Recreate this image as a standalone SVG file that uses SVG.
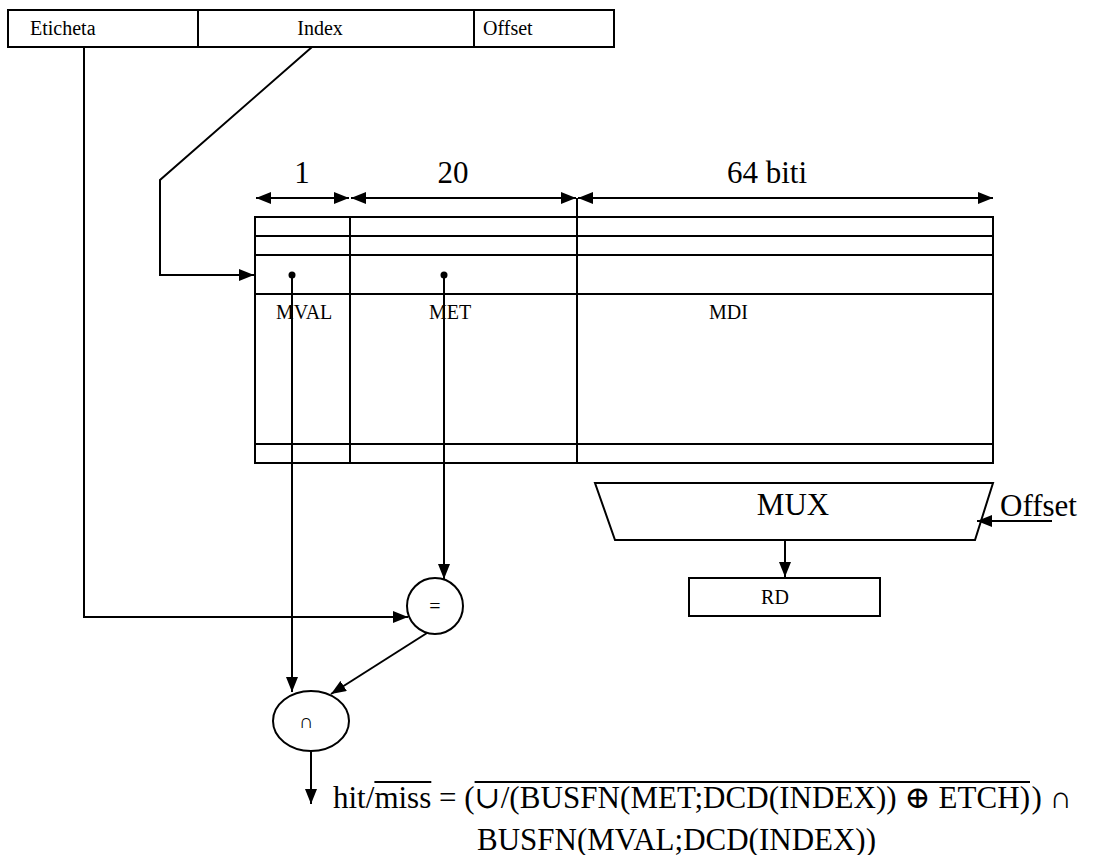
<svg xmlns="http://www.w3.org/2000/svg" width="1094" height="855" viewBox="0 0 1094 855">
<style>
.ln{fill:none;stroke:#000;stroke-width:2}
.bx{fill:#fff;stroke:#000;stroke-width:2}
.t{font-family:"Liberation Serif","Times New Roman",serif;fill:#000}
.s{font-size:20px}
.b{font-size:31px}
.m{font-family:"DejaVu Sans ExtraLight","DejaVu Serif","Liberation Serif",serif}
</style>
<defs>
<marker id="arr" viewBox="0 0 15 12" refX="15" refY="6" markerWidth="15" markerHeight="12" markerUnits="userSpaceOnUse" orient="auto-start-reverse">
<path d="M0,0 L15,6 L0,12 z" fill="#000"/>
</marker>
</defs>
<rect width="1094" height="855" fill="#fff"/>
<g id="address">
<rect class="bx" x="8" y="10" width="606" height="37"/>
<line class="ln" x1="198" y1="10" x2="198" y2="47"/>
<line class="ln" x1="474" y1="10" x2="474" y2="47"/>
<text class="t s" x="30" y="35">Eticheta</text>
<text class="t s" x="320" y="35" text-anchor="middle">Index</text>
<text class="t s" x="483" y="35">Offset</text>
</g>
<g id="dimensions">
<line class="ln" x1="256" y1="198" x2="349" y2="198" marker-start="url(#arr)" marker-end="url(#arr)"/>
<line class="ln" x1="351" y1="198" x2="576" y2="198" marker-start="url(#arr)" marker-end="url(#arr)"/>
<line class="ln" x1="578" y1="198" x2="993" y2="198" marker-start="url(#arr)" marker-end="url(#arr)"/>
<text class="t b" x="302" y="183" text-anchor="middle">1</text>
<text class="t b" x="453" y="183" text-anchor="middle">20</text>
<text class="t b" x="767" y="183" text-anchor="middle">64 biti</text>
</g>
<g id="cache">
<rect class="bx" x="255" y="217" width="738" height="246"/>
<line class="ln" x1="255" y1="236" x2="993" y2="236"/>
<line class="ln" x1="255" y1="255" x2="993" y2="255"/>
<line class="ln" x1="255" y1="294" x2="993" y2="294"/>
<line class="ln" x1="255" y1="444" x2="993" y2="444"/>
<line class="ln" x1="350" y1="217" x2="350" y2="463"/>
<line class="ln" x1="577" y1="198" x2="577" y2="463"/>
<text class="t s" x="276" y="319">MVAL</text>
<text class="t s" x="429" y="319">MET</text>
<text class="t s" x="709" y="319">MDI</text>
<circle cx="292" cy="275" r="3.5" fill="#000"/>
<circle cx="444" cy="275" r="3.5" fill="#000"/>
</g>
<g id="mux">
<polygon class="bx" points="595,483 993,483 975,540 615,540"/>
<text class="t b" x="793" y="515" text-anchor="middle">MUX</text>
<text class="t b" x="1000" y="516">Offset</text>
</g>
<g id="rd">
<rect class="bx" x="689" y="578" width="191" height="38"/>
<text class="t s" x="775" y="604" text-anchor="middle">RD</text>
</g>
<g id="eq">
<circle class="bx" cx="435" cy="606" r="28"/>
<text class="t s" x="435" y="613" text-anchor="middle">=</text>
</g>
<g id="and">
<ellipse class="bx" cx="311" cy="721" rx="38" ry="30"/>
<text class="t s" x="306" y="728" text-anchor="middle">∩</text>
</g>
<g id="connectors">
<path class="ln" d="M312,47 L160,180 V275 H254" marker-end="url(#arr)"/>
<path class="ln" d="M84,47 V617 H408" marker-end="url(#arr)"/>
<line class="ln" x1="444" y1="275" x2="444" y2="579" marker-end="url(#arr)"/>
<line class="ln" x1="292" y1="275" x2="292" y2="692" marker-end="url(#arr)"/>
<line class="ln" x1="427" y1="633" x2="331" y2="694" marker-end="url(#arr)"/>
<line class="ln" x1="311" y1="751" x2="311" y2="804" marker-end="url(#arr)"/>
<line class="ln" x1="785" y1="540" x2="785" y2="577" marker-end="url(#arr)"/>
<line class="ln" x1="1052" y1="521" x2="977" y2="521" marker-end="url(#arr)"/>
</g>
<g id="formula">
<text class="t b" x="333" y="808">hit/</text>
<text class="t b" x="374.4" y="808">miss</text>
<text class="t b" x="431.3" y="808" xml:space="preserve"> = (</text>
<text class="t b" x="474.6" y="808" textLength="555.4" lengthAdjust="spacing"><tspan class="m">∪</tspan>/(BUSFN(MET;DCD(INDEX)) <tspan class="m">⊕</tspan> ETCH)</text>
<text class="t b" x="1072" y="808" text-anchor="end">) ∩</text>
<line class="ln" x1="374.4" y1="782" x2="431.3" y2="782" stroke-width="1.5"/>
<line class="ln" x1="474.6" y1="782" x2="1030" y2="782" stroke-width="1.5"/>
<text class="t b" x="477" y="850">BUSFN(MVAL;DCD(INDEX))</text>
</g>
</svg>
